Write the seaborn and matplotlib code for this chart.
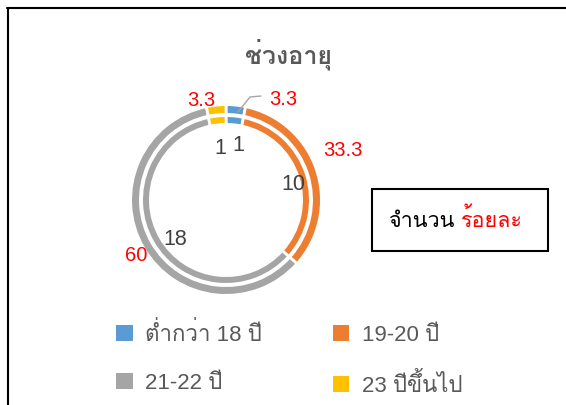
import matplotlib
matplotlib.use("Agg")
import matplotlib.pyplot as plt
import seaborn as sns
import numpy as np
import pandas as pd
from matplotlib import font_manager as fm
from matplotlib.ft2font import FT2Font
from matplotlib.patches import Patch, Rectangle
from matplotlib.lines import Line2D

# ---------------- data ----------------
categories = ["ต่ำกว่า 18 ปี", "19-20 ปี", "21-22 ปี", "23 ปีขึ้นไป"]
counts = [1, 10, 18, 1]
percents = [3.3, 33.3, 60, 3.3]
colors = ["#5B9BD5", "#ED7D31", "#A5A5A5", "#FFC000"]
title_text = "ช่วงอายุ"
box_words = ["จำนวน", "ร้อยละ"]

df = pd.DataFrame({"category": categories, "count": counts, "percent": percents})

# ---------------- fonts ----------------
sns.set_theme(style="white")


def find_thai():
    names = []
    for f in fm.fontManager.ttflist:
        try:
            cmap = FT2Font(f.fname).get_charmap()
        except Exception:
            continue
        if 0x0E0A in cmap and 0x0E2D in cmap and f.name not in names:
            names.append(f.name)
    return names


thai_fonts = find_thai()
preferred = ["Loma", "Tahoma", "Noto Sans Thai", "Anuphan"]
pick = [n for n in preferred if n in thai_fonts] + thai_fonts
plt.rcParams["font.family"] = ["Liberation Sans"] + pick[:1] + ["DejaVu Sans"]

# ---------------- layout ----------------
W, H = 566, 405
CX, CY, R = 226, 200, 94
L = 1.6


def fx(x):
    return x / W


def fy(y):
    return 1 - y / H


fig = plt.figure(figsize=(W / 100, H / 100), dpi=100)
fig.patch.set_facecolor("white")
ax = fig.add_axes([(CX - R * L) / W, (H - CY - R * L) / H, 2 * R * L / W, 2 * R * L / H])

edge_lw = 2.0
half = edge_lw * 100 / 72 / 2
r_out = (94 + half) / R
w_out = (7 + 2 * half) / R
r_in = (83 + half) / R
w_in = (6 + 2 * half) / R

ax.pie(df["percent"], radius=r_out, startangle=90, counterclock=False, colors=colors,
       wedgeprops=dict(width=w_out, edgecolor="white", linewidth=edge_lw))
ax.pie(df["count"], radius=r_in, startangle=90, counterclock=False, colors=colors,
       wedgeprops=dict(width=w_in, edgecolor="white", linewidth=edge_lw))
ax.set_xlim(-L, L)
ax.set_ylim(-L, L)
ax.set_aspect("equal")
ax.axis("off")

# data labels (positions in figure pixels, baseline-centred)
outer_label_px = [(283, 105), (343, 156), (136.5, 261), (201, 106)]
inner_label_px = [(238, 151), (293.5, 190), (175.5, 245), (220, 154)]
for (x, y), v in zip(outer_label_px, df["percent"]):
    fig.text(fx(x), fy(y), f"{v:g}", ha="center", va="baseline", fontsize=14.5, color="#FF0000")
for (x, y), v in zip(inner_label_px, df["count"]):
    fig.text(fx(x), fy(y), f"{v:g}", ha="center", va="baseline", fontsize=15.5, color="#404040")

# leader line for the small blue slice
leader = [(238, 112), (250, 97), (261, 96)]
fig.add_artist(Line2D([fx(p[0]) for p in leader], [fy(p[1]) for p in leader],
                      transform=fig.transFigure, color="#A6A6A6", lw=1.0))

# title
fig.text(fx(289), fy(63), title_text, ha="center", va="baseline", fontsize=18,
         weight="bold", color="#595959")

# legend
order = [0, 2, 1, 3]
handles = [Patch(facecolor=colors[i], edgecolor="none", label=categories[i]) for i in order]
fig.legend(handles=handles, loc="upper left", bbox_to_anchor=(fx(116), fy(322)), ncol=2,
           frameon=False, fontsize=16, handlelength=0.75, handleheight=0.75,
           handletextpad=0.55, columnspacing=3.2, labelspacing=1.2, borderpad=0,
           borderaxespad=0, labelcolor="#595959")

# box with "จำนวน ร้อยละ"
fig.add_artist(Rectangle((fx(372), fy(251)), (548 - 372) / W, (251 - 189) / H,
                         transform=fig.transFigure, facecolor="white", edgecolor="black", lw=1.5))
t1 = fig.text(0, fy(227), box_words[0], fontsize=15.5, color="black", va="baseline")
t2 = fig.text(0, fy(227), box_words[1], fontsize=15.5, color="#FF0000", va="baseline")
fig.canvas.draw()
rend = fig.canvas.get_renderer()
w1 = t1.get_window_extent(rend).width
w2 = t2.get_window_extent(rend).width
space = 0.28 * 15.5 * 100 / 72
x0 = 456 - (w1 + space + w2) / 2
t1.set_x(fx(x0))
t2.set_x(fx(x0 + w1 + space))

# frame lines of the surrounding chart area
fig.add_artist(Line2D([fx(7.5), fx(7.5)], [0, fy(8)], transform=fig.transFigure, color="black", lw=1.5))
fig.add_artist(Line2D([fx(7), 1], [fy(8), fy(8)], transform=fig.transFigure, color="black", lw=1.5))

fig.savefig("out.png", dpi=100)
